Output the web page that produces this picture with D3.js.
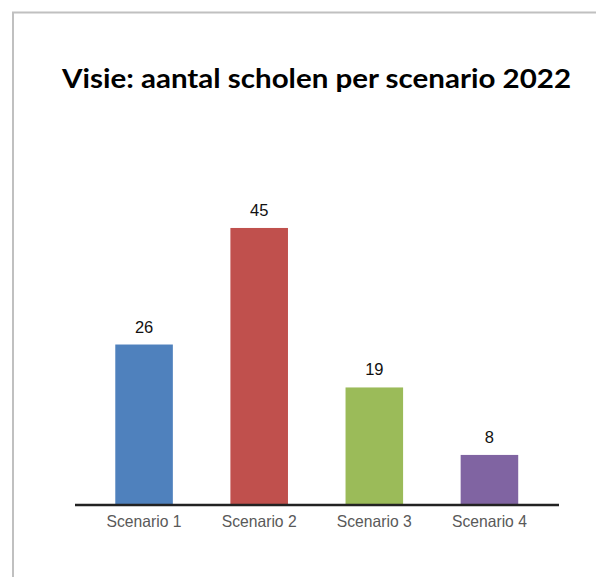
<!DOCTYPE html>
<html><head><meta charset="utf-8">
<script src="https://cdn.jsdelivr.net/npm/d3@7"></script>
<style>html,body{margin:0;padding:0;background:#fff;}</style>
</head><body>
<script>
const title = "Visie: aantal scholen per scenario 2022";
const categories = ["Scenario 1", "Scenario 2", "Scenario 3", "Scenario 4"];
const values = [26, 45, 19, 8];
const colors = ["#4f81bd", "#c0504d", "#9bbb59", "#8064a2"];

const W = 596, H = 577;
const svg = d3.select("body").append("svg").attr("width", W).attr("height", H);

// frame
svg.append("path").attr("d", `M13,${H} L13,12.5 L${W},12.5`)
  .attr("fill", "none").attr("stroke", "#c0c0c0").attr("stroke-width", 2);

// title
svg.append("text").attr("x", 316.5).attr("y", 88)
  .attr("text-anchor", "middle")
  .attr("font-family", "Lato, 'Open Sans', sans-serif").attr("font-weight", "bold")
  .attr("font-size", 26.5).attr("fill", "#000").text(title)
  .attr("textLength", 509).attr("lengthAdjust", "spacingAndGlyphs");

const baseY = 504;
const x = d3.scaleBand().domain(categories).range([86.5, 547]).paddingInner(0.5).paddingOuter(0.25);
const y = d3.scaleLinear().domain([0, 50]).range([baseY, baseY - 306.7]);

svg.selectAll("rect.bar").data(values).join("rect").attr("class", "bar")
  .attr("x", (d, i) => x(categories[i]))
  .attr("width", x.bandwidth())
  .attr("y", d => y(d))
  .attr("height", d => y(0) - y(d))
  .attr("fill", (d, i) => colors[i]);

svg.selectAll("text.val").data(values).join("text").attr("class", "val")
  .attr("x", (d, i) => x(categories[i]) + x.bandwidth() / 2)
  .attr("y", d => y(d) - 12)
  .attr("text-anchor", "middle")
  .attr("font-family", "'Liberation Sans', Arial, sans-serif")
  .attr("font-size", 16.5).attr("fill", "#111").text(d => d);

// axis
const axis = svg.append("g").attr("transform", `translate(0,${baseY + 1})`)
  .call(d3.axisBottom(x).tickSize(0).tickPadding(10));
axis.select(".domain").attr("d", "M75,0H559").attr("stroke", "#222").attr("stroke-width", 2.5);
axis.selectAll("text").attr("font-family", "'Liberation Sans', Arial, sans-serif")
  .attr("font-size", 16.5).attr("fill", "#595959")
  .attr("textLength", 75).attr("lengthAdjust", "spacingAndGlyphs");
</script>
</body></html>
